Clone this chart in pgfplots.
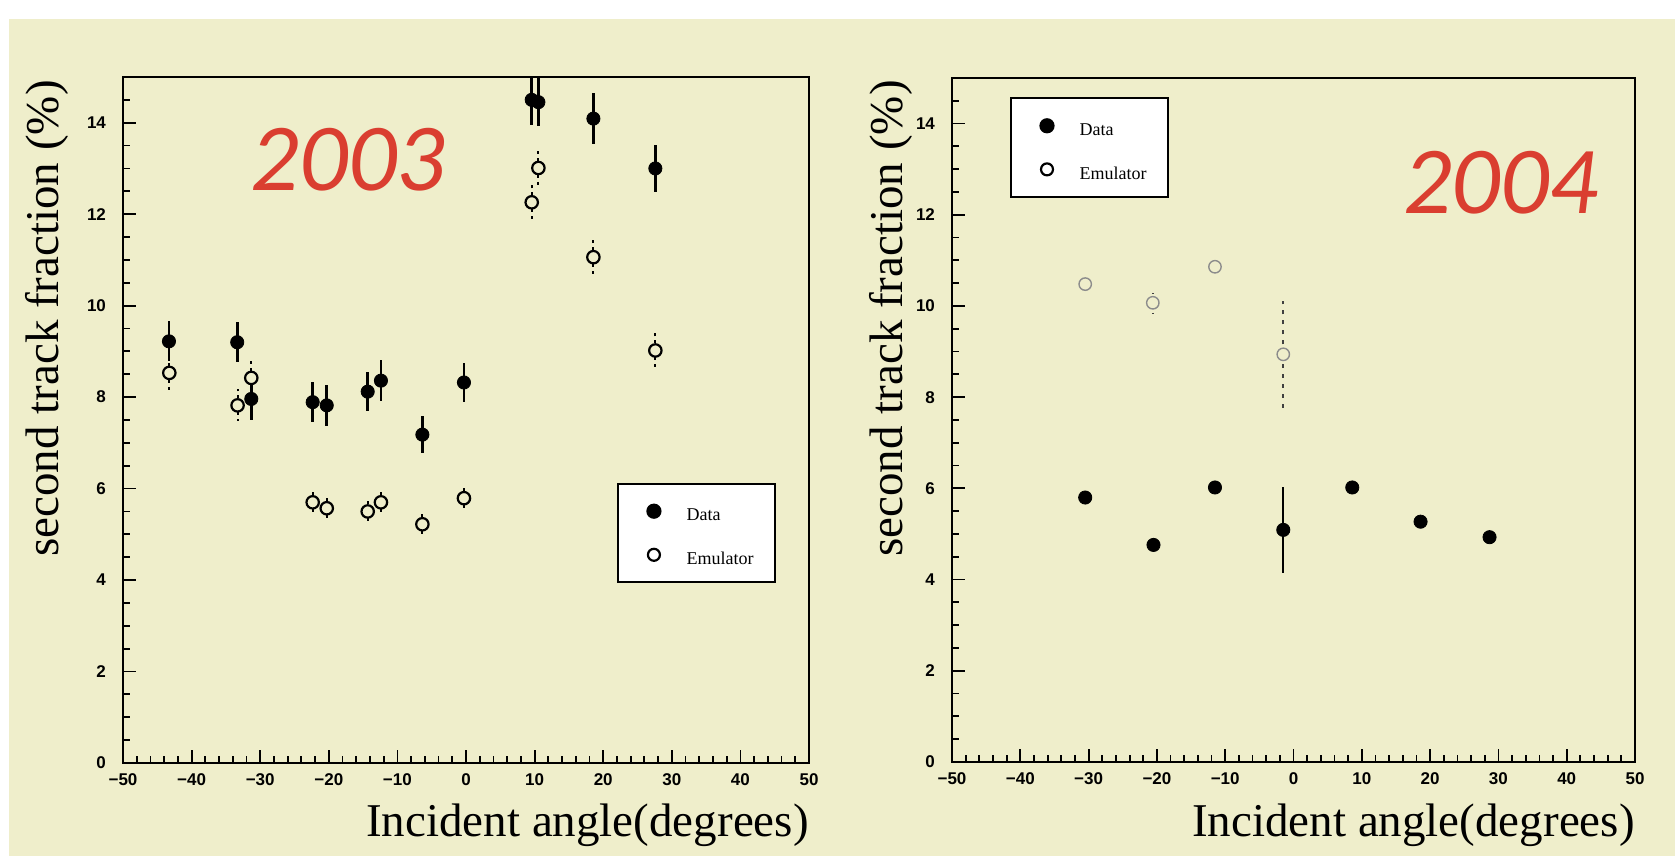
\documentclass[border=0pt]{standalone}
\usepackage{fontspec}
\setmainfont{Liberation Serif}
\newfontfamily\ticksf{Liberation Sans}
\newfontfamily\yearfont{Carlito}
\usepackage{pgfplots}
\pgfplotsset{compat=1.18}

\definecolor{bg}{RGB}{239,238,203}
\definecolor{yearred}{RGB}{218,62,48}

% data: x = angle, y = fraction (%), e = error
\pgfplotstableread{
x y e
-43.3 9.22 0.44
-33.35 9.20 0.44
-31.3 7.96 0.45
-22.35 7.89 0.43
-20.3 7.82 0.45
-14.33 8.12 0.43
-12.4 8.36 0.45
-6.36 7.18 0.41
-0.3 8.32 0.43
9.58 14.50 0.54
10.55 14.45 0.53
18.57 14.09 0.55
27.6 13.00 0.52
}\dataA
\pgfplotstableread{
x y e
-43.25 8.53 0.38
-33.3 7.82 0.35
-31.3 8.42 0.45
-22.35 5.70 0.30
-20.3 5.57 0.30
-14.33 5.50 0.30
-12.4 5.70 0.30
-6.36 5.22 0.30
-0.3 5.79 0.30
9.58 12.26 0.39
10.55 13.01 0.45
18.57 11.06 0.45
27.6 9.02 0.43
}\emuA
\pgfplotstableread{
x y e
-30.5 5.80 0
-20.5 4.76 0
-11.5 6.02 0
-1.5 5.09 0.94
8.6 6.02 0
18.6 5.27 0
28.7 4.93 0
}\dataB
\pgfplotstableread{
x y e
-30.5 10.48 0.15
-20.6 10.07 0.22
-11.5 10.86 0.15
-1.5 8.94 1.17
}\emuB

\pgfplotsset{
  rootstyle/.style={
    scale only axis, xmin=-50, xmax=50, ymin=0, ymax=15,
    xtick={-50,-40,...,50}, ytick={0,2,...,14},
    xticklabels={−50,−40,−30,−20,−10,0,10,20,30,40,50},
    yticklabels={0,2,4,6,8,10,12,14},
    minor xtick={-50,-48,...,50}, minor ytick={0,0.5,...,15},
    tick align=inside, tick pos=left,
    major tick length=6.5pt, minor tick length=3.5pt,
    tick style={black, line width=0.9pt},
    axis line style={line width=1.2pt},
    tick label style={font=\ticksf\bfseries\fontsize{8.5}{9}\selectfont},
    yticklabel style={xshift=-5pt},
    xticklabel style={yshift=-2pt},
    legend style={draw=black, line width=1pt, fill=white,
      inner xsep=0pt, inner ysep=2.85pt, row sep=0pt,
      font=\fontsize{9}{10}\selectfont,
      nodes={inner sep=0pt, text width=44.4pt, align=left}},
    legend cell align=left,
    legend image code/.code={\path (-17.5pt,-7.7pt) (15.8pt,13.1pt);
      \draw[##1] plot coordinates {(0pt,2.7pt)};},
  },
  datastyle/.style={only marks, mark=*, mark size=3.3pt,
    mark options={fill=black, draw=black, solid}, forget plot,
    error bars/y dir=both, error bars/y explicit, error bars/error mark=none,
    error bars/error bar style={line width=1.3pt, black, solid}},
  emustyle/.style={only marks, mark=*, mark size=3.1pt,
    mark options={fill=bg, draw=black, line width=1.1pt, solid}, forget plot,
    error bars/y dir=both, error bars/y explicit, error bars/error mark=none,
    error bars/error bar style={line width=1pt, black, dash pattern=on 1.5pt off 2pt}},
}

\begin{document}
\begin{tikzpicture}
\fill[white] (0,0) rectangle (837.5pt,428pt);
\fill[bg] (4.25pt,0) rectangle (837.5pt,418.5pt);

\begin{axis}[rootstyle, at={(61.5pt,46.5pt)}, anchor=south west,
  width=343pt, height=343pt,
  legend style={at={(0.72,0.4086)}, anchor=north west}]
\addlegendimage{only marks, mark=*, mark size=3.3pt, mark options={fill=black, draw=black}}
\addlegendentry{Data}
\addlegendimage{only marks, mark=*, mark size=3pt, mark options={fill=white, draw=black, line width=1.1pt}}
\addlegendentry{Emulator}
\addplot[datastyle] table[x=x, y=y, y error=e] {\dataA};
\addplot[emustyle] table[x=x, y=y, y error=e] {\emuA};
\end{axis}

\begin{axis}[rootstyle, at={(476pt,47pt)}, anchor=south west,
  width=341.5pt, height=342pt,
  legend style={at={(0.0849,0.9718)}, anchor=north west}]
\addlegendimage{only marks, mark=*, mark size=3.3pt, mark options={fill=black, draw=black}}
\addlegendentry{Data}
\addlegendimage{only marks, mark=*, mark size=3pt, mark options={fill=white, draw=black, line width=1.1pt}}
\addlegendentry{Emulator}
\addplot[datastyle, error bars/error bar style={line width=1pt}] table[x=x, y=y, y error=e] {\dataB};
\addplot[emustyle, mark options={fill=bg, draw=black!45, line width=0.7pt, solid},
  error bars/error bar style={line width=1pt, black!75, dash pattern=on 2pt off 3pt}]
  table[x=x, y=y, y error=e] {\emuB};
\end{axis}

\node[text=yearred, font=\yearfont\itshape\fontsize{48}{50}\selectfont] at (174pt,348pt) {2003};
\node[text=yearred, font=\yearfont\itshape\fontsize{48}{50}\selectfont] at (750.25pt,336.5pt) {2004};

\node[rotate=90, anchor=south east, inner sep=0pt, font=\fontsize{23.5}{25}\selectfont] at (34.5pt,388pt) {second track fraction (\%)};
\node[rotate=90, anchor=south east, inner sep=0pt, font=\fontsize{23.5}{25}\selectfont] at (456.5pt,388pt) {second track fraction (\%)};
\node[anchor=base east, inner sep=0pt, font=\fontsize{23.5}{25}\selectfont] at (404.5pt,9.5pt) {Incident angle(degrees)};
\node[anchor=base east, inner sep=0pt, font=\fontsize{23.5}{25}\selectfont] at (817.5pt,9.5pt) {Incident angle(degrees)};
\end{tikzpicture}
\end{document}
